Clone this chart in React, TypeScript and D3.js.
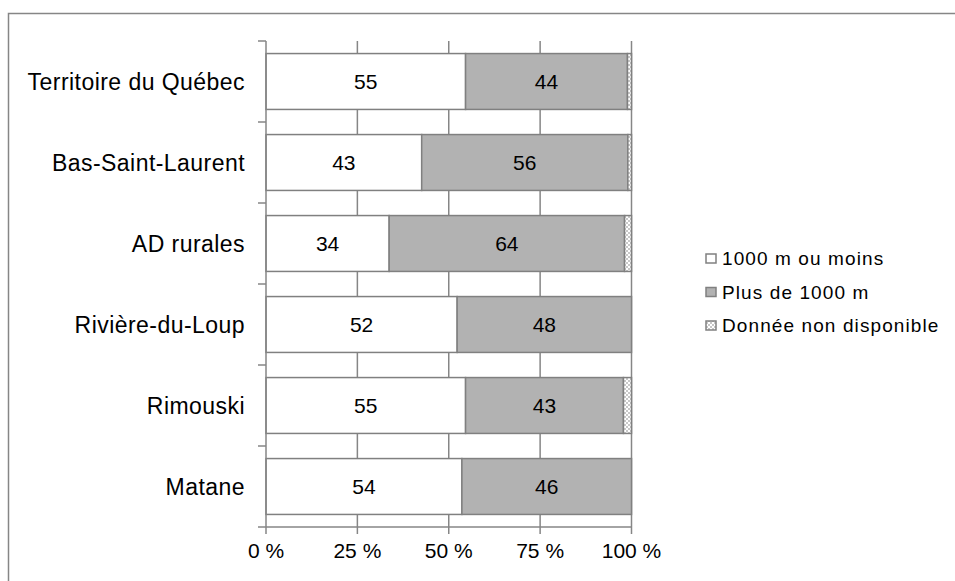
import React from "react";
import * as d3 from "d3";

const categories = ["Territoire du Québec", "Bas-Saint-Laurent", "AD rurales", "Rivière-du-Loup", "Rimouski", "Matane"];
const le1000 = [54.6, 42.6, 33.7, 52.3, 54.6, 53.6];
const plus1000 = [44.3, 56.4, 64.4, 47.7, 43.2, 46.4];
const nonDispo = [1.1, 1.0, 1.9, 0, 2.2, 0];
const seriesNames = ["1000 m ou moins", "Plus de 1000 m", "Donnée non disponible"];
const xTicks = [0, 25, 50, 75, 100];

const FONT = "'Liberation Sans', Arial, sans-serif";
const GRID = "#868686";
const STROKE = "#808080";

export default function App() {
  const x = d3.scaleLinear().domain([0, 100]).range([266, 631.5]);
  const y = d3.scaleBand<string>().domain(categories).range([41, 527]).paddingInner(0.31).paddingOuter(0.155);
  const step = y.step();
  const fills = ["#ffffff", "#b2b2b2", "url(#chk)"];
  const stack = categories.map((c, i) => {
    const vals = [le1000[i], plus1000[i], nonDispo[i]];
    let acc = 0;
    return vals.map((v, k) => {
      const s = acc;
      acc += v;
      return { c, k, v, x0: s, x1: acc };
    });
  });
  const [x0, x1] = x.range();
  const yTop = y.range()[0];
  const yBot = y.range()[1];
  const boundaries = categories.map((c) => (y(c) as number) - (step * 0.31) / 2).concat([yBot]);
  return (
    <svg width={955} height={581} style={{ position: "absolute", left: 0, top: 0, background: "#fff" }} fontFamily={FONT}>
      <defs>
        <pattern id="chk" width={4} height={4} patternUnits="userSpaceOnUse">
          <rect width={4} height={4} fill="#ffffff" />
          <rect width={2} height={2} fill="#c8c8c8" />
          <rect x={2} y={2} width={2} height={2} fill="#c8c8c8" />
        </pattern>
      </defs>
      <rect x={8.5} y={13.5} width={1000} height={1000} fill="#fff" stroke={GRID} strokeWidth={1.5} />
      {xTicks.slice(1).map((t) => (
        <line key={t} x1={x(t)} x2={x(t)} y1={yTop} y2={yBot} stroke={GRID} strokeWidth={1.5} />
      ))}
      {stack.map((segs) =>
        segs.filter((s) => s.v > 0).map((s) => (
          <rect key={s.c + s.k} x={x(s.x0)} y={y(s.c)} width={x(s.x1) - x(s.x0)} height={y.bandwidth()} fill={fills[s.k]} stroke={STROKE} strokeWidth={1.5} />
        ))
      )}
      {stack.map((segs) =>
        segs.filter((s) => s.k < 2).map((s) => (
          <text key={"t" + s.c + s.k} x={(x(s.x0) + x(s.x1)) / 2} y={(y(s.c) as number) + y.bandwidth() / 2} dy="0.36em" textAnchor="middle" fontSize={21} fill="#000">
            {Math.round(s.v)}
          </text>
        ))
      )}
      <line x1={x0} x2={x0} y1={yTop} y2={yBot} stroke={GRID} strokeWidth={1.5} />
      {boundaries.map((b, i) => (
        <line key={"yt" + i} x1={x0 - 8} x2={x0} y1={b} y2={b} stroke={GRID} strokeWidth={1.5} />
      ))}
      <line x1={x0} x2={x1} y1={yBot} y2={yBot} stroke={GRID} strokeWidth={1.5} />
      {xTicks.map((t) => (
        <g key={"xt" + t}>
          <line x1={x(t)} x2={x(t)} y1={yBot} y2={yBot + 7} stroke={GRID} strokeWidth={1.5} />
          <text x={x(t)} y={558} textAnchor="middle" fontSize={21} fill="#000">{t} %</text>
        </g>
      ))}
      {categories.map((c) => (
        <text key={"c" + c} x={245} y={(y(c) as number) + y.bandwidth() / 2} dy="0.36em" textAnchor="end" fontSize={23} letterSpacing={0.45} fill="#000">{c}</text>
      ))}
      {seriesNames.map((n, i) => (
        <g key={"lg" + n}>
          <rect x={706} y={254 + i * 33.5} width={10} height={9} fill={fills[i]} stroke={STROKE} strokeWidth={1.5} />
          <text x={722} y={265 + i * 33.5} fontSize={19} letterSpacing={1.1} fill="#000">{n}</text>
        </g>
      ))}
    </svg>
  );
}
